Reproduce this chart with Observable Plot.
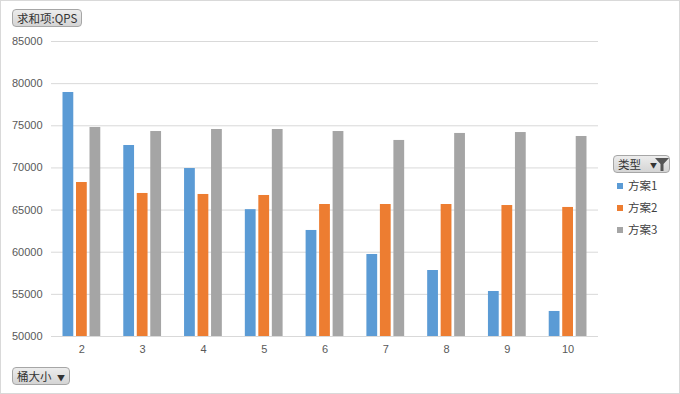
<!DOCTYPE html>
<html><head><meta charset="utf-8">
<script src="https://cdn.jsdelivr.net/npm/d3@7"></script>
<script src="https://cdn.jsdelivr.net/npm/@observablehq/plot@0.6"></script>
<style>
body{margin:0;background:#fff;}
#wrap{position:relative;width:680px;height:394px;background:#fff;font-family:"Liberation Sans","Noto Sans CJK SC",sans-serif;}
#wrap > svg{position:absolute;left:0;top:0;}
#frame{position:absolute;left:0;top:0;width:680px;height:394px;box-sizing:border-box;border:1px solid #d9d9d9;pointer-events:none;}
.btn{position:absolute;box-sizing:border-box;border:1px solid #a6a6a6;border-radius:4px;background:linear-gradient(#ececec,#d4d4d4);color:#333;font-size:11.5px;line-height:16px;padding:0 4px;font-family:"Noto Sans CJK SC","Liberation Sans",sans-serif;white-space:nowrap;}
.leg{position:absolute;font-size:11.5px;color:#404040;font-family:"Noto Sans CJK SC",sans-serif;line-height:14px;}
.sw{display:inline-block;width:6px;height:6px;margin-right:5px;vertical-align:1px;}
</style></head>
<body>
<div id="wrap"></div>
<script>
const buckets = [2, 3, 4, 5, 6, 7, 8, 9, 10];
const plan1 = [78950, 72660, 69930, 65050, 62580, 59730, 57830, 55340, 52970];
const plan2 = [68270, 66970, 66850, 66730, 65660, 65660, 65660, 65540, 65310];
const plan3 = [74800, 74320, 74560, 74560, 74320, 73260, 74090, 74200, 73730];
const seriesNames = ["方案1", "方案2", "方案3"];
const seriesColors = ["#5B9BD5", "#ED7D31", "#A5A5A5"];
const yTicks = [50000, 55000, 60000, 65000, 70000, 75000, 80000, 85000];
const yTitle = "求和项:QPS";
const xTitle = "桶大小";
const legendTitle = "类型";

const allSeries = [plan1, plan2, plan3];
const rows = [];
allSeries.forEach((vals, si) => vals.forEach((v, i) => rows.push({bucket: buckets[i], series: seriesNames[si], value: v})));
const offsets = [-13.5, 0, 13.5];

const chart = Plot.plot({
  width: 680,
  height: 394,
  marginTop: 41,
  marginBottom: 58,
  marginLeft: 51,
  marginRight: 82,
  style: {fontFamily: "Liberation Sans, sans-serif", fontSize: "11px", color: "#595959", background: "transparent"},
  x: {type: "band", domain: buckets, padding: 0, round: false, label: null},
  y: {domain: [50000, 85000], label: null},
  marks: [
    Plot.ruleY(yTicks, {stroke: "#d9d9d9", strokeWidth: 1}),
    ...seriesNames.map((name, si) => Plot.barY(rows.filter(d => d.series === name), {
      x: "bucket", y1: 50000, y2: "value", fill: seriesColors[si],
      dx: offsets[si], insetLeft: 25, insetRight: 25
    })),
    Plot.axisY(yTicks, {tickSize: 0, tickPadding: 9, tickFormat: d => String(d), fill: "#595959", fontSize: 11}),
    Plot.axisX({tickSize: 0, tickPadding: 9, fill: "#595959", fontSize: 11})
  ]
});
const wrap = document.getElementById("wrap");
wrap.appendChild(chart);

function addDiv(cls, html, style) {
  const d = document.createElement("div");
  d.className = cls;
  d.innerHTML = html;
  Object.assign(d.style, style);
  wrap.appendChild(d);
  return d;
}
addDiv("btn", yTitle, {left: "12px", top: "9px", height: "18px"});
addDiv("btn", xTitle + ' <span style="font-size:8px;margin-left:3px">&#9660;</span>', {left: "12px", top: "367px", height: "18px"});
addDiv("btn", legendTitle + '<span style="font-size:7px;position:absolute;left:36px;top:1px">&#9660;</span><svg width="14" height="13" viewBox="0 0 14 13" style="position:absolute;left:41px;top:2px"><path d="M0 0H14L8.5 6V13H5.5V6Z" fill="#555"/></svg>', {left: "613px", top: "155px", height: "18px", width: "57px"});
seriesNames.forEach((name, i) => {
  addDiv("leg", `<span class="sw" style="background:${seriesColors[i]}"></span>${name}`, {left: "617px", top: (178 + i * 22) + "px"});
});
addDiv("", "", {}).id = "frame";
</script>
</body></html>
